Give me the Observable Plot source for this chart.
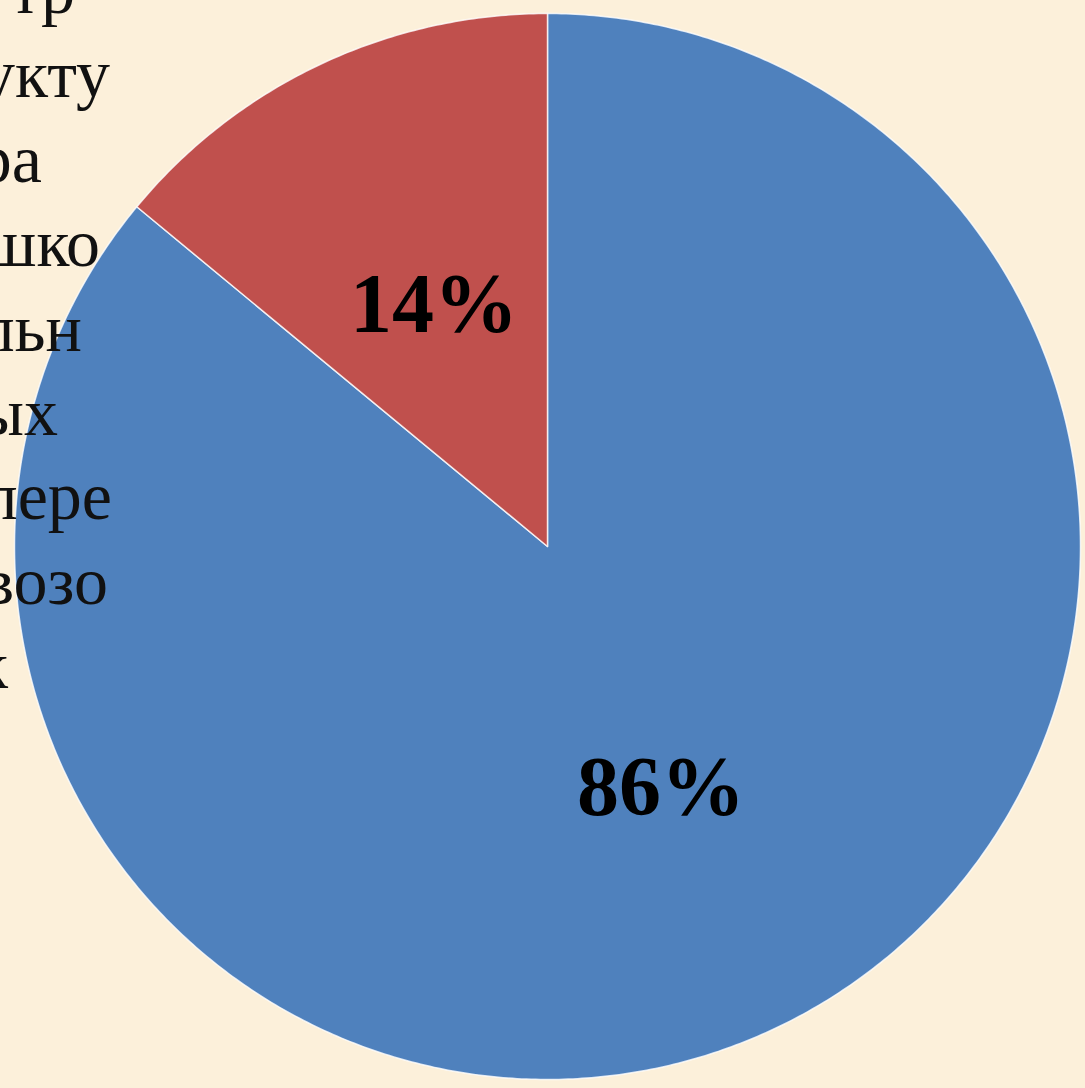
<!DOCTYPE html>
<html><head><meta charset="utf-8">
<script src="https://cdn.jsdelivr.net/npm/d3@7"></script>
<script src="https://cdn.jsdelivr.net/npm/@observablehq/plot@0.6"></script>
<style>
html,body{margin:0;padding:0;background:#fcf0da;}
#wrap{position:relative;width:1085px;height:1088px;overflow:hidden;background:#fcf0da;}
#wrap svg{position:absolute;left:0;top:0;}
</style></head><body><div id="wrap"></div>
<script>
// ---- data ----
const categories = ["Доля 1", "Доля 2"];
const values = [86, 14];
const labels = ["86%", "14%"];
const colors = ["#4f81bd", "#c0504d"];
const sideText = ["тр", "укту", "ра", "шко", "льн", "ых", "пере", "возо", "к"];

// ---- geometry of slices (clockwise from top) ----
const total = d3.sum(values);
let acc = 0;
const slices = categories.map((c, i) => {
  const a0 = acc / total * 2 * Math.PI; acc += values[i];
  const a1 = acc / total * 2 * Math.PI;
  return {c, a0, a1, label: labels[i]};
});
const pts = [];
for (const s of slices) {
  pts.push({c: s.c, x: 0, y: 0});
  const n = Math.max(2, Math.ceil((s.a1 - s.a0) / (Math.PI / 360)));
  for (let k = 0; k <= n; k++) {
    const a = s.a0 + (s.a1 - s.a0) * k / n;
    pts.push({c: s.c, x: Math.sin(a), y: Math.cos(a)});
  }
}
const labelPts = slices.map(s => {
  const m = (s.a0 + s.a1) / 2;
  return {label: s.label, x: 0.5 * Math.sin(m), y: 0.5 * Math.cos(m)};
});

const W = 1085, H = 1088, cx = 547, cy = 546, R = 533;
const chart = Plot.plot({
  width: W, height: H, margin: 0,
  style: {background: "transparent"},
  x: {domain: [-1, 1], range: [cx - R, cx + R], axis: null},
  y: {domain: [-1, 1], range: [cy + R, cy - R], axis: null},
  color: {domain: categories, range: colors},
  marks: [
    Plot.line(pts, {x: "x", y: "y", z: "c", fill: "c", stroke: "#ffffff", strokeWidth: 1.5, strokeOpacity: 0.8, curve: "linear-closed"}),
    Plot.text(labelPts, {x: "x", y: "y", text: "label", fontSize: 84, fontWeight: "bold",
      fontFamily: "'Liberation Serif', 'Times New Roman', serif", fill: "#000"})
  ]
});
document.getElementById("wrap").appendChild(chart);

// ---- slide text fragment (partially off-canvas at the left) ----
const lineEnds = [75, 110, 42, 100, 82, 58, 112, 108, 8];
const firstBase = 13, lineStep = 84.4;
const ov = d3.create("svg").attr("width", W).attr("height", H);
ov.selectAll("text").data(sideText).join("text")
  .attr("x", (d, i) => lineEnds[i])
  .attr("y", (d, i) => firstBase + i * lineStep)
  .attr("text-anchor", "end")
  .attr("font-family", "'Liberation Serif', 'Times New Roman', serif")
  .attr("font-size", 68)
  .attr("fill", "#111")
  .text(d => d);
document.getElementById("wrap").appendChild(ov.node());
</script></body></html>
